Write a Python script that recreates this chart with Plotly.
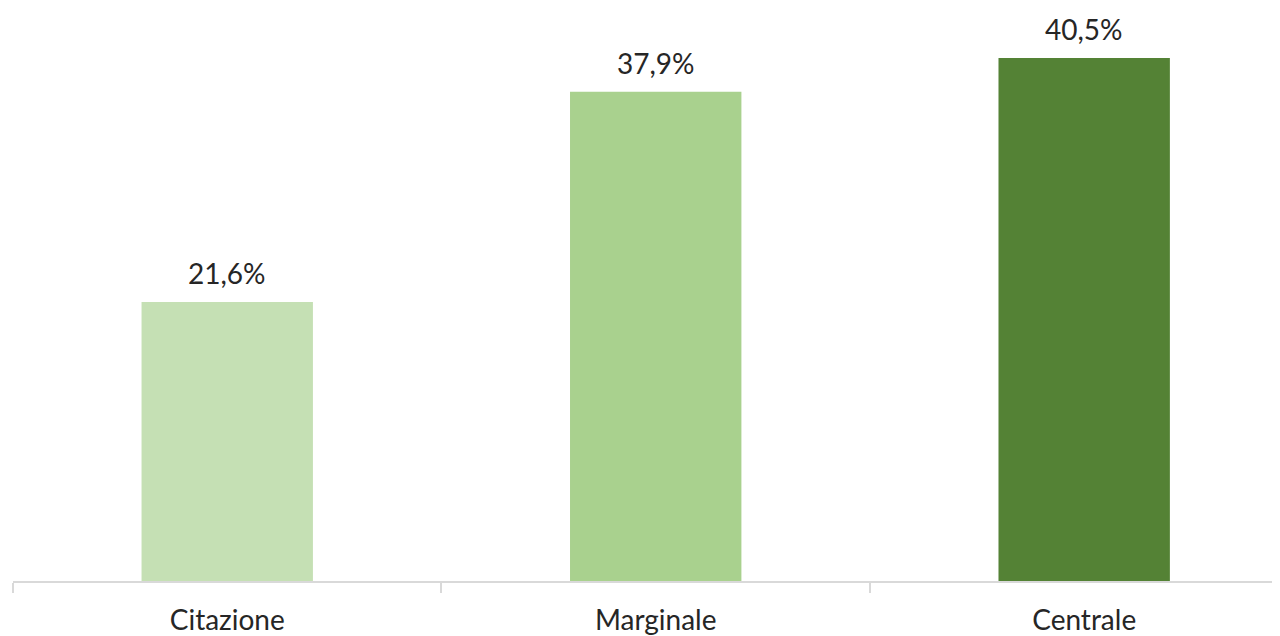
import plotly.graph_objects as go

categories = ["Citazione", "Marginale", "Centrale"]
values = [21.6, 37.9, 40.5]
colors = ["#C5E0B4", "#A9D18E", "#548235"]
labels = [f"{v:.1f}%".replace(".", ",") for v in values]

FONT = "Lato"
TXT = "#262626"

fig = go.Figure(go.Bar(
    x=categories, y=values,
    marker=dict(color=colors, line=dict(width=0)),
    cliponaxis=False,
))

for c, v, t in zip(categories, values, labels):
    fig.add_annotation(
        x=c, y=v, text=t, showarrow=False,
        yanchor="bottom", xanchor="center", yshift=10,
        font=dict(size=28, color=TXT, family=FONT),
    )

fig.update_layout(
    width=1272, height=628,
    margin=dict(l=5, r=0, t=0, b=55),
    paper_bgcolor="white", plot_bgcolor="white",
    bargap=0.6,
    showlegend=False,
    font=dict(family=FONT, color=TXT, size=28),
)
fig.update_xaxes(
    type="category", range=[-0.5, 2.457],
    tickson="boundaries", ticks="outside", ticklen=10, tickcolor="#D9D9D9", tickwidth=2,
    showline=True, linecolor="#D9D9D9", linewidth=2,
    showgrid=False, ticklabelstandoff=13,
    tickfont=dict(size=28, color=TXT, family=FONT),
)
fig.update_yaxes(range=[0, 44.38], visible=False, showgrid=False)

fig.write_html("out.html")
